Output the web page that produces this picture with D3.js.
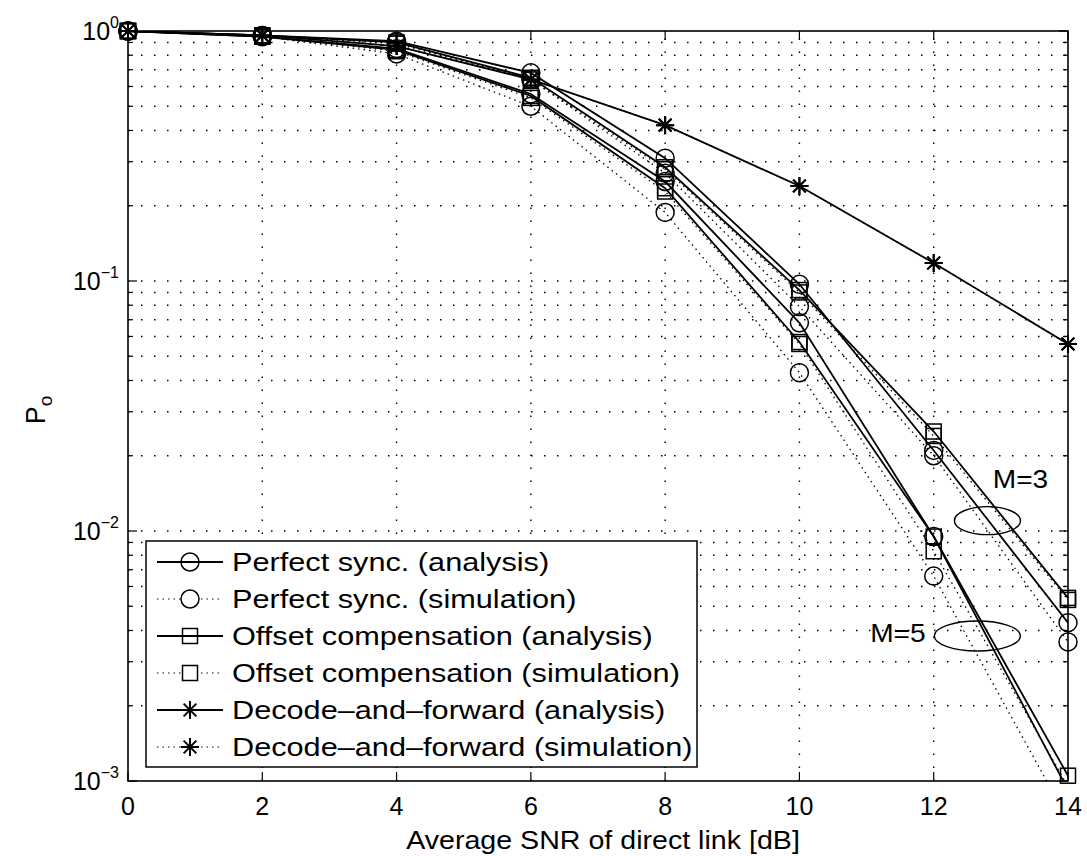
<!DOCTYPE html>
<html>
<head>
<meta charset="utf-8">
<script src="https://cdn.jsdelivr.net/npm/d3@7"></script>
<style>
  body { margin: 0; background: #fff; }
  text { font-family: "Liberation Sans", Arial, Helvetica, sans-serif; fill: #000; }
</style>
</head>
<body>
<script>
"use strict";

// SNR of direct link [dB]
var snr = [0, 2, 4, 6, 8, 10, 12, 14];

// outage probability (M=3 and M=5 curves)
var psAnaM3 = [1, 0.96, 0.91, 0.68, 0.31, 0.097, 0.021, 0.0043];
var psSimM3 = [1, 0.96, 0.90, 0.64, 0.27, 0.079, 0.020, 0.0036];
var ocAnaM3 = [1, 0.96, 0.90, 0.65, 0.285, 0.092, 0.025, 0.0054];
var ocSimM3 = [1, 0.96, 0.89, 0.64, 0.28, 0.090, 0.024, 0.0053];
var psAnaM5 = [1, 0.95, 0.85, 0.56, 0.25, 0.068, 0.0095, 0.00092];
var psSimM5 = [1, 0.95, 0.81, 0.50, 0.188, 0.043, 0.0066, 0.0007];
var ocAnaM5 = [1, 0.95, 0.84, 0.55, 0.235, 0.057, 0.0095, 0.00105];
var ocSimM5 = [1, 0.95, 0.83, 0.54, 0.228, 0.056, 0.0083, 0.00095];
var dfAna = [1, 0.96, 0.87, 0.64, 0.42, 0.24, 0.118, 0.056];
var dfSim = [1, 0.96, 0.87, 0.64, 0.42, 0.24, 0.118, 0.056];

var xTicks = [0, 2, 4, 6, 8, 10, 12, 14];
var yDecades = [-3, -2, -1, 0];

var legendLabels = [
  "Perfect sync. (analysis)",
  "Perfect sync. (simulation)",
  "Offset compensation (analysis)",
  "Offset compensation (simulation)",
  "Decode\u2013and\u2013forward (analysis)",
  "Decode\u2013and\u2013forward (simulation)"
];

// the scanned figure's lettering is a bit wider than Liberation Sans
function stretch(sel, k) {
  sel.each(function () {
    var len = this.getComputedTextLength();
    d3.select(this)
      .attr("textLength", len * k)
      .attr("lengthAdjust", "spacingAndGlyphs");
  });
}

function init() {
  var w = 1087;
  var h = 856;
  var left = 128, right = 1068, top = 31, bottom = 781;

  var xScale = d3.scaleLinear().domain([0, 14]).range([left, right]);
  var yScale = d3.scaleLog().domain([1e-3, 1]).range([bottom, top]);

  var svg = d3.select("body")
    .append("svg")
    .attr("width", w)
    .attr("height", h);

  svg.append("defs").append("clipPath")
    .attr("id", "plotclip")
    .append("rect")
    .attr("x", left).attr("y", top)
    .attr("width", right - left).attr("height", bottom - top);

  // grid, MATLAB style dotted
  var minorVals = [];
  for (var k = -3; k < 0; k++) {
    for (var m = 1; m <= 9; m++) {
      minorVals.push(m * Math.pow(10, k));
    }
  }
  var grid = svg.append("g")
    .attr("stroke", "#000")
    .attr("stroke-width", 1.4)
    .attr("stroke-dasharray", "1.5,11.5");

  grid.selectAll("line.hg")
    .data(minorVals.filter(function (d) { return d > 1e-3; }))
    .enter()
    .append("line")
    .attr("x1", left).attr("x2", right)
    .attr("y1", function (d) { return yScale(d); })
    .attr("y2", function (d) { return yScale(d); });

  grid.selectAll("line.vg")
    .data(xTicks.slice(1, -1))
    .enter()
    .append("line")
    .attr("x1", function (d) { return xScale(d); })
    .attr("x2", function (d) { return xScale(d); })
    .attr("y1", bottom).attr("y2", top);

  // series
  var series = [
    { v: psAnaM3, mk: "circle", sim: false },
    { v: psSimM3, mk: "circle", sim: true },
    { v: ocAnaM3, mk: "square", sim: false },
    { v: ocSimM3, mk: "square", sim: true },
    { v: psAnaM5, mk: "circle", sim: false },
    { v: psSimM5, mk: "circle", sim: true },
    { v: ocAnaM5, mk: "square", sim: false },
    { v: ocSimM5, mk: "square", sim: true },
    { v: dfAna, mk: "star", sim: false },
    { v: dfSim, mk: "star", sim: true }
  ];

  var line = d3.line()
    .x(function (d, i) { return xScale(snr[i]); })
    .y(function (d) { return yScale(d); });

  var plot = svg.append("g").attr("clip-path", "url(#plotclip)");

  plot.selectAll("path.series")
    .data(series)
    .enter()
    .append("path")
    .attr("d", function (d) { return line(d.v); })
    .attr("fill", "none")
    .attr("stroke", "#000")
    .attr("stroke-width", function (d) { return d.sim ? 1.3 : 1.8; })
    .attr("stroke-dasharray", function (d) { return d.sim ? "1.5,4" : null; });

  function drawMarker(g, type, cx, cy) {
    if (type === "circle") {
      g.append("circle")
        .attr("cx", cx).attr("cy", cy).attr("r", 9)
        .attr("fill", "none").attr("stroke", "#000").attr("stroke-width", 1.5);
    } else if (type === "square") {
      g.append("rect")
        .attr("x", cx - 7.5).attr("y", cy - 7.5)
        .attr("width", 15).attr("height", 15)
        .attr("fill", "none").attr("stroke", "#000").attr("stroke-width", 1.5);
    } else {
      var r = 9, a = r * 0.707;
      g.append("path")
        .attr("d", "M" + (cx - r) + "," + cy + "L" + (cx + r) + "," + cy +
          "M" + cx + "," + (cy - r) + "L" + cx + "," + (cy + r) +
          "M" + (cx - a) + "," + (cy - a) + "L" + (cx + a) + "," + (cy + a) +
          "M" + (cx - a) + "," + (cy + a) + "L" + (cx + a) + "," + (cy - a))
        .attr("stroke", "#000").attr("stroke-width", 2);
    }
  }

  var markers = svg.append("g");
  series.forEach(function (s) {
    s.v.forEach(function (d, i) {
      if (d >= 1e-3) {
        drawMarker(markers, s.mk, xScale(snr[i]), yScale(d));
      }
    });
  });

  // annotations
  svg.append("ellipse")
    .attr("cx", xScale(12.8)).attr("cy", yScale(0.011))
    .attr("rx", 33).attr("ry", 14)
    .attr("fill", "none").attr("stroke", "#000").attr("stroke-width", 1.4);
  svg.append("ellipse")
    .attr("cx", xScale(12.65)).attr("cy", yScale(0.0038))
    .attr("rx", 43).attr("ry", 15)
    .attr("fill", "none").attr("stroke", "#000").attr("stroke-width", 1.4);
  svg.append("text")
    .attr("x", xScale(12.88)).attr("y", yScale(0.0162) + 9)
    .attr("font-size", "26px")
    .text("M=3")
    .call(stretch, 1.08);
  svg.append("text")
    .attr("x", xScale(11.88)).attr("y", yScale(0.0039) + 9)
    .attr("text-anchor", "end")
    .attr("font-size", "26px")
    .text("M=5")
    .call(stretch, 1.08);

  // axes box
  svg.append("rect")
    .attr("x", left).attr("y", top)
    .attr("width", right - left).attr("height", bottom - top)
    .attr("fill", "none").attr("stroke", "#000").attr("stroke-width", 1.6);

  // ticks
  var ticks = svg.append("g").attr("stroke", "#000").attr("stroke-width", 1.2);
  xTicks.forEach(function (t) {
    var x = xScale(t);
    ticks.append("line").attr("x1", x).attr("x2", x).attr("y1", bottom).attr("y2", bottom - 9);
    ticks.append("line").attr("x1", x).attr("x2", x).attr("y1", top).attr("y2", top + 9);
  });
  minorVals.concat([1]).forEach(function (v) {
    var y = yScale(v);
    var major = Math.abs(Math.log10(v) - Math.round(Math.log10(v))) < 1e-9;
    var len = major ? 9 : 5;
    ticks.append("line").attr("x1", left).attr("x2", left + len).attr("y1", y).attr("y2", y);
    ticks.append("line").attr("x1", right).attr("x2", right - len).attr("y1", y).attr("y2", y);
  });

  // tick labels
  svg.selectAll("text.xt")
    .data(xTicks)
    .enter()
    .append("text")
    .attr("x", function (d) { return xScale(d); })
    .attr("y", bottom + 34)
    .attr("text-anchor", "middle")
    .attr("font-size", "25px")
    .text(function (d) { return d; });

  yDecades.forEach(function (k) {
    var t = svg.append("text")
      .attr("x", left - 9)
      .attr("y", yScale(Math.pow(10, k)) + 9)
      .attr("text-anchor", "end")
      .attr("font-size", "25px");
    t.append("tspan").text("10");
    t.append("tspan")
      .attr("dy", -12)
      .attr("font-size", "16px")
      .text(k === 0 ? "0" : "\u2212" + (-k));
  });

  // axis labels
  svg.append("text")
    .attr("x", (left + right) / 2 + 5)
    .attr("y", 849)
    .attr("text-anchor", "middle")
    .attr("font-size", "26px")
    .text("Average SNR of direct link [dB]")
    .call(stretch, 1.1);

  var yl = svg.append("text")
    .attr("transform", "translate(45," + 410 + ") rotate(-90)")
    .attr("text-anchor", "middle")
    .attr("font-size", "27px");
  yl.append("tspan").text("P");
  yl.append("tspan").attr("dy", 7).attr("font-size", "19px").text("o");

  // legend
  var lg = svg.append("g");
  lg.append("rect")
    .attr("x", 146).attr("y", 541)
    .attr("width", 551).attr("height", 226)
    .attr("fill", "#fff").attr("stroke", "#000").attr("stroke-width", 1.5);

  var legendMarks = ["circle", "circle", "square", "square", "star", "star"];
  legendLabels.forEach(function (lab, i) {
    var y = 562 + i * 37;
    var sim = i % 2 === 1;
    lg.append("line")
      .attr("x1", 157).attr("x2", 223)
      .attr("y1", y).attr("y2", y)
      .attr("stroke", "#000")
      .attr("stroke-width", sim ? 1.2 : 1.8)
      .attr("stroke-dasharray", sim ? "1.5,4" : null);
    var mg = lg.append("g");
    if (sim) {
      mg.append("rect").attr("x", 181).attr("y", y - 10).attr("width", 18).attr("height", 20).attr("fill", "#fff");
    }
    drawMarker(mg, legendMarks[i], 190, y);
    lg.append("text")
      .attr("x", 232)
      .attr("y", y + 9)
      .attr("font-size", "26px")
      .text(lab)
      .call(stretch, 1.18);
  });
}

window.onload = init;
</script>
</body>
</html>
